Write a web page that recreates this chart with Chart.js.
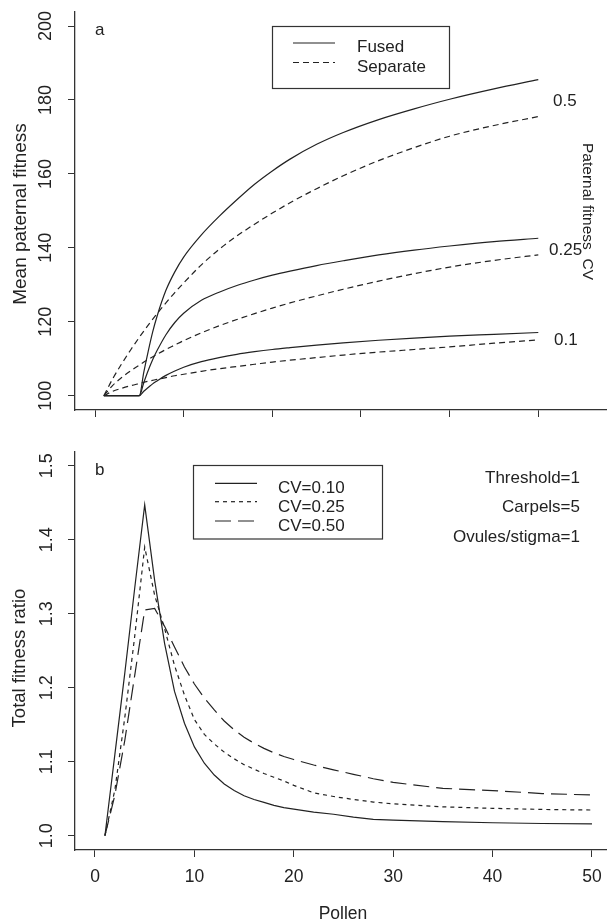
<!DOCTYPE html>
<html><head><meta charset="utf-8">
<script src="https://cdn.jsdelivr.net/npm/chart.js@4.4.0/dist/chart.umd.min.js"></script>
<style>
html,body{margin:0;padding:0;background:#fff;}
#wrap{position:relative;width:607px;height:921px;overflow:hidden;background:#fff;}
.pane{position:absolute;left:0;width:607px;}
</style></head><body>
<div id="wrap">
  <div class="pane" style="top:0;height:420px"><canvas id="ca" width="607" height="420"></canvas></div>
  <div class="pane" style="top:420px;height:501px"><canvas id="cb" width="607" height="501"></canvas></div>
</div>
<script>
// ---------- Panel a data ----------
const pollenFused = [1,2,3,4,5,5.5,6,6.5,7,8,9,10,12,14,16,18,20,22,25,28,32,36,40,45,50];
const fused01  = [100,100,100,100,100,101.2,102.2,103.2,104,105.5,106.7,107.7,109.2,110.3,111.2,111.9,112.5,113,113.7,114.3,115,115.6,116.1,116.6,117.1];
const fused025 = [100,100,100,100,100,103.5,106.8,109.7,112.2,116.5,119.8,122.3,125.8,128,129.8,131.3,132.6,133.7,135.2,136.5,138.1,139.4,140.5,141.7,142.6];
const fused05  = [100,100,100,100,100,106.3,112,117.2,121.5,128.5,133.5,137.5,143.5,148.5,153,157.2,160.8,164,168,171.2,174.7,177.6,180.2,183,185.5];
const pollenSep = [1,2,3,4,5,6,7,8,9,10,12,14,16,18,20,22,25,28,32,36,40,45,50];
const sep01  = [100,101.2,102,102.7,103.3,103.9,104.4,104.9,105.4,105.8,106.6,107.3,107.9,108.5,109.1,109.6,110.3,111,111.8,112.5,113.2,114.2,115.1];
const sep025 = [100,102.8,104.9,106.7,108.3,109.8,111.2,112.5,113.7,114.9,117,118.9,120.6,122.2,123.7,125.1,127,128.8,131,133,134.8,136.6,138.1];
const sep05  = [100,104.6,108.6,112.3,115.8,119.1,122.2,125.1,127.9,130.5,135.4,139.6,143.2,146.4,149.4,152.2,156,159.5,163.6,167.1,170.2,173.1,175.5];
const yTicksA = [100,120,140,160,180,200];
const cvLabelsA = ["0.5","0.25","0.1"];

// ---------- Panel b data ----------
const pollenB = [1,2,3,4,5,6,7,8,9,10,11,12,13,14,15,16,17,18,19,20,22,24,26,28,30,35,40,45,50];
const ratioCV010 = [1.0,1.11,1.22,1.335,1.447,1.345,1.26,1.195,1.152,1.12,1.098,1.082,1.07,1.061,1.054,1.049,1.045,1.041,1.038,1.036,1.032,1.029,1.025,1.022,1.021,1.019,1.0175,1.0165,1.016];
const ratioCV025 = [1.0,1.062,1.16,1.27,1.39,1.325,1.28,1.23,1.19,1.157,1.137,1.124,1.113,1.104,1.096,1.09,1.084,1.079,1.074,1.068,1.058,1.053,1.049,1.0455,1.043,1.039,1.037,1.0355,1.0347];
const ratioCV050 = [1.0,1.055,1.129,1.217,1.305,1.307,1.283,1.255,1.228,1.205,1.186,1.17,1.155,1.143,1.133,1.125,1.118,1.112,1.107,1.103,1.0955,1.089,1.083,1.077,1.072,1.064,1.061,1.057,1.055];
const yTicksB = [1.0,1.1,1.2,1.3,1.4,1.5];
const yTickTextB = ["1.0","1.1","1.2","1.3","1.4","1.5"];
const xTicks = [0,10,20,30,40,50];
const legendB = ["CV=0.10","CV=0.25","CV=0.50"];
const notesB = ["Threshold=1","Carpels=5","Ovules/stigma=1"];

const INK = '#222';
const FONT = 'Liberation Sans, Arial, Helvetica, sans-serif';

function pts(xs, ys){ return xs.map((x,i)=>({x:x, y:ys[i]})); }
function ds(xs, ys, dash, mode){
  return {data: pts(xs,ys), borderColor: INK, borderWidth: 1.2, borderDash: dash,
          pointRadius: 0, fill: false, tension: mode==='smooth'?0.4:0,
          cubicInterpolationMode: mode==='smooth'?'monotone':'default'};
}
function text(ctx, s, x, y, size, align, rot){
  ctx.save();
  ctx.font = size + 'px ' + FONT;
  ctx.fillStyle = INK;
  ctx.textAlign = align || 'left';
  ctx.textBaseline = 'alphabetic';
  ctx.translate(x, y);
  if (rot) ctx.rotate(rot);
  ctx.fillText(s, 0, 0);
  ctx.restore();
}
function seg(ctx, x1, x2, y, dash){
  ctx.save();
  ctx.strokeStyle = INK; ctx.lineWidth = 1.2; ctx.setLineDash(dash);
  ctx.beginPath(); ctx.moveTo(x1, y); ctx.lineTo(x2, y); ctx.stroke();
  ctx.restore();
}
function axisCommon(ticksArr, min, max, size, isY){
  return {
    type: 'linear', min: min, max: max,
    afterBuildTicks: s => { s.ticks = ticksArr.map(v => ({value: v})); },
    afterFit: s => { if (isY) s.width = size; else s.height = size; },
    grid: {drawOnChartArea: false, drawTicks: true, tickLength: 7, color: '#333', lineWidth: 1},
    border: {display: true, color: '#333', width: 1.3},
    ticks: {display: false}
  };
}

// ---------- Panel a ----------
const annotA = {
  id: 'annotA',
  afterDraw(chart){
    const ctx = chart.ctx, y = chart.scales.y;
    yTicksA.forEach(v => text(ctx, String(v), 51, y.getPixelForValue(v), 18, 'center', -Math.PI/2));
    text(ctx, 'Mean paternal fitness', 25.5, (chart.chartArea.top + chart.chartArea.bottom)/2 + 3, 19, 'center', -Math.PI/2);
    text(ctx, 'a', 95, 35, 17, 'left');
    ctx.save(); ctx.strokeStyle = '#333'; ctx.lineWidth = 1.2;
    ctx.strokeRect(272.5, 26.5, 177, 62); ctx.restore();
    seg(ctx, 293, 335, 43, []);
    seg(ctx, 293, 335, 62.5, [6,4]);
    text(ctx, 'Fused', 357, 52, 17, 'left');
    text(ctx, 'Separate', 357, 71.5, 17, 'left');
    text(ctx, cvLabelsA[0], 553, 106, 17, 'left');
    text(ctx, cvLabelsA[1], 549, 255, 17, 'left');
    text(ctx, cvLabelsA[2], 554, 345, 17, 'left');
    text(ctx, 'Paternal fitness  CV', 583, 143, 15.5, 'left', Math.PI/2);
  }
};

new Chart(document.getElementById('ca'), {
  type: 'line',
  data: {datasets: [
    ds(pollenFused, fused05, [], 'smooth'),
    ds(pollenFused, fused025, [], 'smooth'),
    ds(pollenFused, fused01, [], 'smooth'),
    ds(pollenSep, sep05, [6,4], 'smooth'),
    ds(pollenSep, sep025, [6,4], 'smooth'),
    ds(pollenSep, sep01, [6,4], 'smooth')
  ]},
  options: {
    responsive: false, animation: false, events: [],
    layout: {padding: {top: 12, left: 0, right: 0, bottom: 0}},
    plugins: {legend: {display: false}, tooltip: {enabled: false}},
    scales: {
      x: axisCommon(xTicks, -2.256, 57.75, 10, false),
      y: axisCommon(yTicksA, 96.13, 203.8, 75, true)
    }
  },
  plugins: [annotA]
});

// ---------- Panel b ----------
const annotB = {
  id: 'annotB',
  afterDraw(chart){
    const ctx = chart.ctx, y = chart.scales.y, x = chart.scales.x;
    yTicksB.forEach((v,i) => text(ctx, yTickTextB[i], 52, y.getPixelForValue(v), 18, 'center', -Math.PI/2));
    xTicks.forEach(v => text(ctx, String(v), x.getPixelForValue(v), 461.5, 17.5, 'center'));
    text(ctx, 'Pollen', 343, 499, 17.5, 'center');
    text(ctx, 'Total fitness ratio', 25, 238, 18.5, 'center', -Math.PI/2);
    text(ctx, 'b', 95, 55, 17, 'left');
    ctx.save(); ctx.strokeStyle = '#333'; ctx.lineWidth = 1.2;
    ctx.strokeRect(193.5, 45.5, 189, 73.5); ctx.restore();
    seg(ctx, 215, 257, 63.3, []);
    seg(ctx, 215, 257, 81.7, [4,4]);
    seg(ctx, 215, 257, 101, [16,7]);
    text(ctx, legendB[0], 278, 72.7, 17, 'left');
    text(ctx, legendB[1], 278, 91.7, 17, 'left');
    text(ctx, legendB[2], 278, 110.7, 17, 'left');
    text(ctx, notesB[0], 580, 62.7, 17, 'right');
    text(ctx, notesB[1], 580, 92.3, 17, 'right');
    text(ctx, notesB[2], 580, 121.8, 17, 'right');
  }
};

new Chart(document.getElementById('cb'), {
  type: 'line',
  data: {datasets: [
    ds(pollenB, ratioCV010, [], 'linear'),
    ds(pollenB, ratioCV025, [4,4], 'linear'),
    ds(pollenB, ratioCV050, [16,7], 'linear')
  ]},
  options: {
    responsive: false, animation: false, events: [],
    layout: {padding: {top: 32, left: 0, right: 0, bottom: 0}},
    plugins: {legend: {display: false}, tooltip: {enabled: false}},
    scales: {
      x: axisCommon(xTicks, -2.012, 51.51, 71, false),
      y: axisCommon(yTicksB, 0.9807, 1.5185, 75, true)
    }
  },
  plugins: [annotB]
});
</script>
</body></html>
